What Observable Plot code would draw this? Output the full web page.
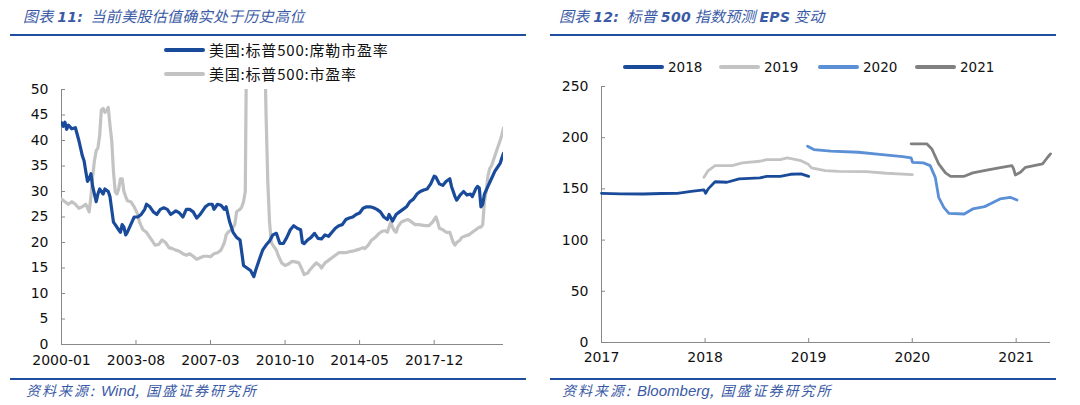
<!DOCTYPE html>
<html><head><meta charset="utf-8">
<script src="https://cdn.jsdelivr.net/npm/d3@7"></script>
<script src="https://cdn.jsdelivr.net/npm/@observablehq/plot@0.6"></script>
<style>
body{margin:0;background:#fff;}
#wrap{position:relative;width:1080px;height:405px;overflow:hidden;font-family:"Noto Sans CJK SC","Noto Sans",sans-serif;}
.abs{position:absolute;}
.title{font-style:italic;color:#3a5aa5;font-size:15px;white-space:nowrap;line-height:20px;letter-spacing:0.3px;}
.title b{font-family:"DejaVu Sans";font-weight:bold;font-size:14px;}
.title i{font-family:"DejaVu Sans";font-size:14px;}
.rule{height:2px;background:#1f4e9c;}
.src{font-style:italic;color:#3a5aa5;font-size:14px;white-space:nowrap;line-height:18px;letter-spacing:2px;}
.src i{font-family:"Liberation Sans";font-size:15px;letter-spacing:0;}
.leg{font-size:15px;color:#111;white-space:nowrap;display:flex;align-items:center;line-height:20px;letter-spacing:0.8px;}
.sw{display:inline-block;width:41px;height:4px;margin-right:4px;border-radius:2px;}
svg text{fill:#111;}
</style></head><body><div id="wrap"></div>
<script>
// ---------- Chart 11 data: months since 2000-01, value ----------
const capeSeries = [[0,43.5],[1,42.8],[2,43.6],[3,42.2],[4,43],[6,42.3],[8,42.5],[10,40],[12,37],[13,36],[14,34],[15,32],[16,32.5],[17,33.5],[18,31],[20,28],[21,29.5],[22,30.5],[24,29.5],[25,30.5],[27,30],[28,29],[30,24],[31,23.5],[33,22.5],[34,22],[35,23.5],[36,23],[37,21.5],[38,22],[40,23.5],[42,25],[44,25],[46,25.5],[48,26.5],[49,27.5],[51,27],[53,26],[55,25.5],[57,26.5],[59,26.8],[61,26.5],[63,25.5],[66,26.2],[68,25.8],[70,25],[72,26.5],[74,26.5],[76,26],[78,24.8],[80,25.5],[83,27],[85,27.5],[87,27.5],[88,26.5],[90,27.5],[92,27.3],[94,26.5],[95,27],[97,24],[99,22],[101,21],[103,20.5],[104,18],[105,15.5],[107,15],[109,14.5],[111,13.3],[112,14.5],[114,16.5],[116,18.5],[118,19.5],[120,20.3],[122,21.5],[124,21.8],[126,19.8],[128,19.8],[130,21],[132,22.5],[134,23.3],[136,22.8],[138,22.5],[139,20],[140,19.8],[142,20.5],[144,21],[146,21.8],[148,20.8],[150,20.7],[152,21.5],[154,21.2],[156,22],[158,22.8],[160,23.3],[162,23.5],[164,24.5],[166,24.8],[168,25],[170,25.5],[172,25.8],[174,26.7],[176,27],[178,27],[180,26.8],[182,26.5],[184,26],[186,25],[188,24.5],[189,25.5],[191,24.2],[193,25.5],[195,26],[197,26.5],[199,27],[201,28],[203,28.5],[205,29.5],[207,30],[209,30.3],[211,30.5],[213,31.5],[215,33],[216,32.8],[218,31.5],[220,31.2],[222,32],[224,32.5],[225,31],[227,29],[228,28.3],[230,29.3],[232,30],[234,29.3],[236,29.5],[237,29],[239,30.5],[240,31],[241,30.7],[242,27],[243,27.5],[244,29.5],[246,31],[248,32.5],[250,34],[252,35],[253,35.5],[254,36.5],[255,37.5]];
const peSeries = [[0,28.5],[2,28],[4,27.5],[6,28],[8,27.5],[10,26.7],[12,27],[14,27.5],[15,26.8],[16,26],[17,29],[18,33],[19,36],[20,38],[21,38.5],[22,41],[23,46],[24,46.3],[25,45.5],[26,45.8],[27,46.5],[28,43],[29,40],[30,34],[31,30],[32,29.5],[33,30.5],[34,32.5],[35,32.5],[36,30],[37,29],[38,28.2],[40,28],[42,27],[44,25.5],[45,24],[47,22.5],[49,22],[50,21.5],[52,20.5],[54,19.5],[56,19.6],[58,20.5],[60,20],[62,19],[64,18.8],[66,18.5],[68,18.3],[70,17.8],[72,17.5],[74,17.8],[76,17.3],[78,16.7],[80,17],[82,17.3],[84,17.3],[86,17.2],[88,17.8],[90,18],[92,18.5],[94,20],[95,21.5],[96,22],[98,22.5],[100,23.5],[101,26],[102,26.3],[103,26.5],[104,27],[105,28],[106,30],[107,70],[108,100],[110,115],[112,120],[114,110],[116,85],[117,62],[118,45],[119,32],[120,24],[121,20],[122,19.5],[124,18.5],[125,17.5],[127,16],[129,15.5],[131,15.8],[133,16.3],[135,16.2],[137,16],[138,15.3],[140,13.7],[142,14],[143,14.5],[145,15.3],[147,16],[149,15.5],[150,15],[152,16],[154,16.5],[156,17],[158,17.5],[160,18],[162,18],[164,18],[166,18.2],[168,18.3],[170,18.5],[172,18.7],[174,19],[175,18.8],[177,19.5],[179,20.5],[181,21],[183,21.7],[185,22.2],[187,22.3],[188,22],[190,24],[191,23],[192,22.3],[193,22],[194,23],[196,24],[198,24.3],[200,24.5],[202,24],[204,23.5],[206,23.5],[208,23.4],[210,23.3],[212,23.3],[214,24],[216,25],[217,24],[218,22.8],[220,22.5],[222,22],[224,22],[225,21],[226,20],[227,19.5],[228,20],[230,20.5],[231,21],[233,21.3],[235,21.5],[237,22],[239,22.5],[241,23],[242,23],[243,23.5],[244,28],[245,30],[246,33],[247,34.5],[248,35],[250,37],[252,39],[253,40],[254,41],[255,42.5]];
const chart11Ticks = ["2000-01","2003-08","2007-03","2010-10","2014-05","2017-12"];
const chart11YTicks = [0,5,10,15,20,25,30,35,40,45,50];
const chart11Names = ["美国:标普500:席勒市盈率","美国:标普500:市盈率"];

// ---------- Chart 12 data ----------
const eps2018Dates = ["2017-01-01","2017-03-10","2017-05-28","2017-08-01","2017-09-25","2017-11-13","2017-12-28","2018-01-03","2018-01-12","2018-02-05","2018-03-19","2018-05-01","2018-07-13","2018-08-06","2018-09-23","2018-10-29","2018-12-05","2019-01-01"];
const eps2018Values = [145.7,145.2,145,145.5,145.7,147.6,149,145.7,150,157,156.5,159.7,160.7,162.3,162.3,164.3,164.6,162.3];
const eps2019Dates = ["2017-12-28","2018-01-12","2018-02-05","2018-04-06","2018-05-12","2018-07-13","2018-08-06","2018-09-23","2018-10-17","2018-12-05","2018-12-29","2019-01-11","2019-02-28","2019-04-17","2019-07-22","2019-10-03","2020-01-01"];
const eps2019Values = [161.3,167.9,172.7,172.7,175.4,177,178.6,178.6,180.2,177.6,174.4,170.5,167.9,167.2,166.9,165.3,164];
const eps2020Dates = ["2018-12-28","2019-01-19","2019-03-20","2019-06-25","2019-09-17","2019-11-28","2019-12-28","2020-01-02","2020-02-09","2020-03-04","2020-03-22","2020-04-03","2020-04-21","2020-05-09","2020-07-02","2020-08-01","2020-09-12","2020-10-06","2020-11-05","2020-12-11","2021-01-04"];
const eps2020Values = [191.7,188.4,186.8,185.8,183.5,181.5,180.2,176,175.4,172.7,161.3,141.8,132,126.1,125.5,130.4,132.7,135.9,140.2,141.8,139.2];
const eps2021Dates = ["2019-12-28","2020-02-21","2020-03-10","2020-04-03","2020-04-27","2020-05-15","2020-07-02","2020-08-01","2020-09-24","2020-11-11","2020-12-17","2020-12-23","2020-12-29","2021-01-16","2021-02-03","2021-04-04","2021-04-22","2021-05-02"];
const eps2021Values = [194,194,189,174.4,165.6,162.3,162.3,165.6,168.5,171.1,172.7,169.5,163.6,166.2,171.1,174.4,180.9,184.2];
const chart12Names = ["2018","2019","2020","2021"];
const chart12Colors = ["#1a4b9b","#c3c3c3","#5b8fd6","#808080"];
const chart12XTicks = ["2017-01-01","2018-01-01","2019-01-01","2020-01-01","2021-01-01"];
const chart12YTicks = [0,50,100,150,200,250];

const wrap = document.getElementById("wrap");
function add(cls, css, html){const d=document.createElement("div");d.className="abs "+cls;Object.assign(d.style,css);d.innerHTML=html||"";wrap.appendChild(d);return d;}

// titles, rules, sources
add("title",{left:"23px",top:"6px"},'图表 <b>11:</b>&nbsp; 当前美股估值确实处于历史高位');
add("title",{left:"559px",top:"6px"},'图表 <b>12:</b>&nbsp; 标普 <b>500</b> 指数预测 <i><b>EPS</b></i> 变动');
add("rule",{left:"10px",top:"34px",width:"516px"});
add("rule",{left:"550px",top:"34px",width:"506px"});
add("rule",{left:"10px",top:"378px",width:"516px"});
add("rule",{left:"550px",top:"378px",width:"506px"});
add("src",{left:"26px",top:"381px"},'资料来源: <i>Wind</i>, 国盛证券研究所');
add("src",{left:"562px",top:"381px"},'资料来源: <i>Bloomberg</i>, 国盛证券研究所');

const blue="#1a4b9b", gray="#c3c3c3";
// left legend
[[chart11Names[0],blue,50],[chart11Names[1],gray,74]].forEach(([n,c,y])=>{
  add("leg",{left:"164px",top:(y-10)+"px"},`<span class="sw" style="background:${c}"></span>${n}`);
});
// right legend
const legX=[623,719,818,915];
chart12Names.forEach((n,i)=>{
  add("leg",{left:legX[i]+"px",top:"57px"},`<span class="sw" style="background:${chart12Colors[i]}"></span><span style="font-family:'DejaVu Sans';font-size:13.5px;letter-spacing:0">${n}</span>`);
});

// ---------- Chart 11 ----------
const base = new Date(Date.UTC(2000,0,1));
const toRows = (arr)=>arr.map(([m,v])=>({date:d3.utcMonth.offset(base,m),v}));
const cape = toRows(capeSeries), pe = toRows(peSeries);
const parseYM = d3.utcParse("%Y-%m");
const xTicks11 = chart11Ticks.map(parseYM);
const xDom11 = d3.extent(cape,d=>d.date);
const axisStyle = {fontFamily:"DejaVu Sans",fontSize:"14px",background:"transparent",overflow:"visible"};

const p1 = Plot.plot({
  width:540,height:300,marginLeft:61,marginRight:37,marginTop:9,marginBottom:36,
  style:axisStyle,
  x:{type:"utc",domain:xDom11},
  y:{domain:[0,50]},
  marks:[
    Plot.axisX({ticks:xTicks11,tickFormat:d3.utcFormat("%Y-%m"),tickSize:-4,tickPadding:15,stroke:"#888",label:null}),
    Plot.axisY({ticks:chart11YTicks,tickSize:-4,tickPadding:17,stroke:"#888",label:null}),
    Plot.ruleY([0],{stroke:"#888"}),
    Plot.ruleX([xDom11[0]],{stroke:"#888"}),
    Plot.line(pe,{x:"date",y:"v",stroke:gray,strokeWidth:3.2,clip:true}),
    Plot.line(cape,{x:"date",y:"v",stroke:blue,strokeWidth:3.2,clip:true})
  ]
});
p1.style.position="absolute";p1.style.left="0px";p1.style.top="80px";
wrap.appendChild(p1);

// ---------- Chart 12 ----------
const parseD = d3.utcParse("%Y-%m-%d");
const series12 = [[eps2018Dates,eps2018Values],[eps2019Dates,eps2019Values],[eps2020Dates,eps2020Values],[eps2021Dates,eps2021Values]];
const rows12 = series12.flatMap(([ds,vs],i)=>ds.map((d,j)=>({date:parseD(d),v:vs[j],s:chart12Names[i]})));
const xTicks12 = chart12XTicks.map(parseD);
const xDom12 = [xTicks12[0], d3.max(rows12,d=>d.date)];
const p2 = Plot.plot({
  width:540,height:300,marginLeft:61,marginRight:30,marginTop:6,marginBottom:38,
  style:axisStyle,
  x:{type:"utc",domain:xDom12},
  y:{domain:[0,250]},
  color:{domain:chart12Names,range:chart12Colors},
  marks:[
    Plot.axisX({ticks:xTicks12,tickFormat:d3.utcFormat("%Y"),tickSize:-4,tickPadding:14,stroke:"#888",label:null}),
    Plot.axisY({ticks:chart12YTicks,tickSize:-4,tickPadding:17,stroke:"#888",label:null}),
    Plot.ruleY([0],{stroke:"#888"}),
    Plot.ruleX([xDom12[0]],{stroke:"#888"}),
    Plot.line(rows12,{x:"date",y:"v",z:"s",stroke:"s",strokeWidth:2.8})
  ]
});
p2.style.position="absolute";p2.style.left="540px";p2.style.top="80px";
wrap.appendChild(p2);
</script></body></html>
